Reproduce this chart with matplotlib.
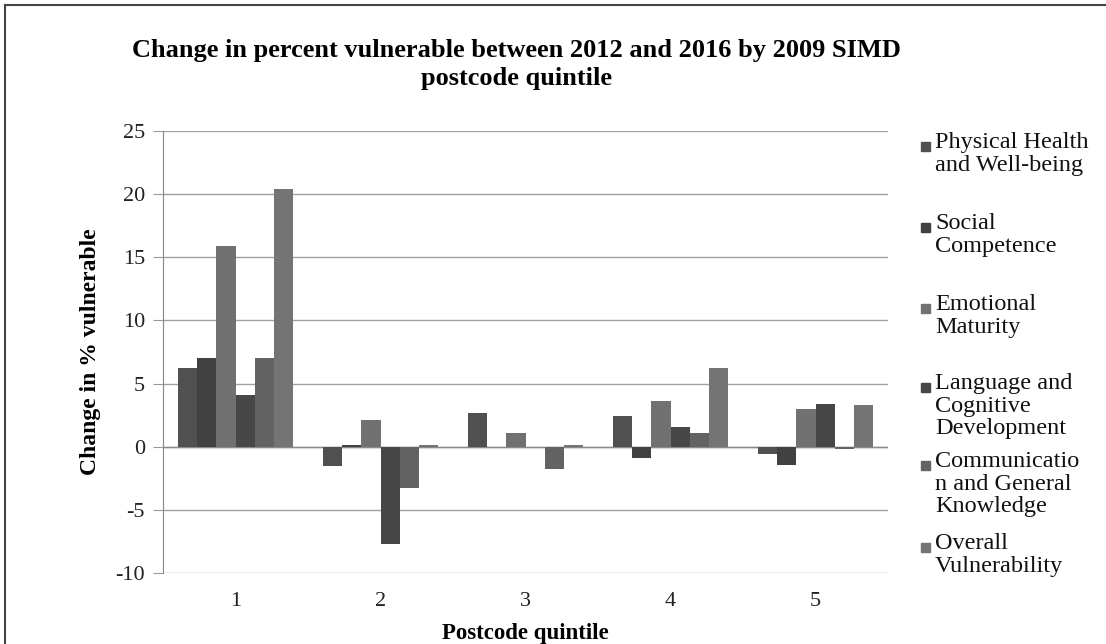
import matplotlib.pyplot as plt
import numpy as np
from matplotlib.patches import Rectangle
from matplotlib.lines import Line2D

quintiles = ["1", "2", "3", "4", "5"]
series = ["Physical Health\nand Well-being",
          "Social\nCompetence",
          "Emotional\nMaturity",
          "Language and\nCognitive\nDevelopment",
          "Communicatio\nn and General\nKnowledge",
          "Overall\nVulnerability"]

physical = [6.2, -1.5, 2.65, 2.45, -0.6]
social = [7.05, 0.1, 0.0, -0.9, -1.45]
emotional = [15.9, 2.1, 1.05, 3.6, 3.0]
language = [4.1, -7.7, 0.0, 1.6, 3.4]
communication = [7.05, -3.3, -1.75, 1.05, -0.15]
overall = [20.4, 0.1, 0.1, 6.2, 3.3]

values = [physical, social, emotional, language, communication, overall]
colors = ['#505050', '#414141', '#717171', '#474747', '#636363', '#747474']

plt.rcParams['font.family'] = 'serif'
plt.rcParams['font.serif'] = ['Liberation Serif']
plt.rcParams['axes.unicode_minus'] = False

fig = plt.figure(figsize=(11.06, 6.44), dpi=100)
ax = fig.add_axes([0.1474, 0.1102, 0.6555, 0.6864])

x = np.arange(len(quintiles))
w = 0.133
for i, vals in enumerate(values):
    ax.bar(x + (i - 2.5) * w, vals, w, color=colors[i], edgecolor='none', zorder=3)

ax.set_xlim(-0.5, 4.5)
ax.set_ylim(-10, 25)
ax.set_yticks(range(-10, 26, 5))
ax.set_xticks(x)
ax.set_xticklabels(quintiles)
ax.tick_params(axis='both', labelsize=16, colors='#222222')
ax.tick_params(axis='x', length=0, pad=14)
ax.tick_params(axis='y', length=7, direction='out', color='#999999', pad=6)
ax.yaxis.grid(True, color='#a0a0a0', linewidth=1.0, zorder=0)
ax.axhline(0, color='#8a8a8a', linewidth=1.0, zorder=2)
for s in ['top', 'right', 'bottom']:
    ax.spines[s].set_visible(False)
ax.spines['left'].set_color('#888888')

ax.set_ylabel("Change in % vulnerable", fontsize=17, fontweight='bold', labelpad=10)
ax.set_xlabel("Postcode quintile", fontsize=16.5, fontweight='bold', labelpad=8)

fig.text(0.467, 0.9, "Change in percent vulnerable between 2012 and 2016 by 2009 SIMD\npostcode quintile",
         ha='center', va='center', fontsize=19, fontweight='bold', linespacing=1.25)

# legend drawn by hand to keep Excel's wrapped spacing
leg_y = [146, 227, 308, 387, 465, 547]   # centre of first line, px from top
for lab, c, yy in zip(series, colors, leg_y):
    fig.patches.append(Rectangle((921 / 1106, 1 - (yy + 5) / 644), 9 / 1106, 9 / 644,
                                 transform=fig.transFigure, color=c))
    fig.text(935 / 1106, 1 - (yy - 14) / 644, lab, ha='left', va='top', fontsize=17.5,
             linespacing=1.1, color='#111111')

# outer frame: only top and left edges show in the scan
fig.add_artist(Line2D([5 / 1106, 1], [1 - 5 / 644, 1 - 5 / 644], transform=fig.transFigure,
                      color='#444444', linewidth=1.5))
fig.add_artist(Line2D([5 / 1106, 5 / 1106], [0, 1 - 5 / 644], transform=fig.transFigure,
                      color='#444444', linewidth=1.5))

fig.savefig("out.png", dpi=100)
